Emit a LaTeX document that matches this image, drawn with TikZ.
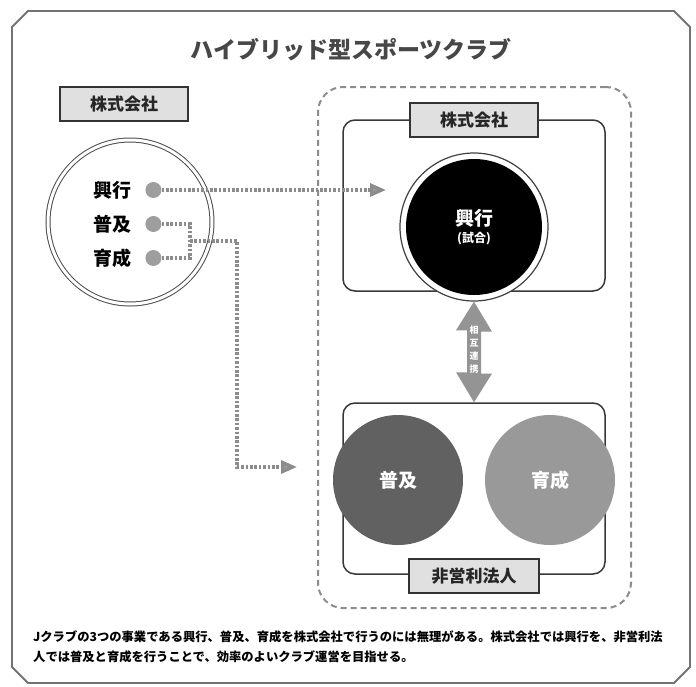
\documentclass[tikz,border=0pt]{standalone}
\usepackage{fontspec}
\setmainfont{Noto Sans CJK JP}
\usetikzlibrary{arrows.meta}
\usetikzlibrary{positioning}

\begin{document}
\begin{tikzpicture}[x=1pt, y=-1pt,
 lblbox/.style={draw=black!80, fill=black!12, line width=1.4pt, minimum width=128pt, minimum height=34pt, inner sep=0pt, text=black!85, font=\fontsize{17}{18}\selectfont\bfseries},
 item/.style={inner sep=0pt, font=\fontsize{19}{21}\selectfont\bfseries},
 dot/.style={circle, fill=black!38, minimum size=16pt, inner sep=0pt},
 dotline/.style={draw=black!45, line width=3.2pt, dash pattern=on 2.6pt off 1.8pt},
 tip/.style={-{Triangle[length=16pt, width=13pt, fill=black!40]}},
 roundbox/.style={draw=black!78, line width=1.5pt, rounded corners=12pt, minimum width=262pt, minimum height=171pt},
 disc/.style={circle, minimum size=130pt, inner sep=0pt, text=white, font=\fontsize{19}{21}\selectfont\bfseries}]
\useasboundingbox (0,0) rectangle (696,686);
\draw[black!55, line width=1.8pt] (12,27) -- (28,11) -- (674,11) -- (690,27) -- (690,667) -- (674,683) -- (28,683) -- (12,667) -- cycle;
\node[text=black!72, font=\fontsize{23}{25}\selectfont\bfseries] (title) at (351,50) {ハイブリッド型スポーツクラブ};

% left: joint-stock company
\node[lblbox] (lcorp) at (124,104) {株式会社};
\node[circle, draw=black!70, double=white, double distance=3pt, line width=1pt, minimum size=164pt] (lring) at (130,222) {};
\foreach \nm/\txt/\yy in {kg/興行/190, fk/普及/224, ik/育成/258} {
 \node[item] (t\nm) at (112,\yy) {\txt};
 \node[dot, right=14pt of t\nm] (d\nm) {};
}

% right: hybrid club
\node[draw=black!45, line width=2pt, dash pattern=on 6pt off 4pt, rounded corners=25pt, minimum width=313pt, minimum height=521pt] (club) at (474.5,347.5) {};
\node[roundbox] (upbox) at (474,205.5) {};
\node[roundbox] (lowbox) at (474,488.5) {};
\node[lblbox] (rcorp) at (474,120) {株式会社};
\node[lblbox, minimum width=130pt] (npo) at (474,576) {非営利法人};
\node[circle, draw=black!75, line width=1.2pt, fill=white, minimum size=148pt] (kring) at (474,227) {};
\node[disc, fill=black, minimum size=136pt, align=center] (kogyo) at (kring) {興行\\[-4pt]{\fontsize{12}{14}\selectfont (試合)}};
\node[disc, fill=black!62] (fukyu) at (398,480) {普及};
\node[disc, fill=black!40] (ikusei) at (550,480) {育成};

\fill[black!42] (kring.south) -- ++(18,30) -- ++(-11,0) -- ++(0,42) -- ++(11,0) -- (lowbox.north) -- ++(-18,-30) -- ++(11,0) -- ++(0,-42) -- ++(-11,0) -- cycle;
\node[inner sep=0pt, align=center, text=white, font=\fontsize{9}{13}\selectfont\bfseries] (renkei) at (474,350) {相\\互\\連\\携};

% dotted links
\coordinate (join) at (190,241);
\coordinate (kgin) at (386,190);
\coordinate (fkin) at (297,467);
\draw[dotline, tip] (dkg.east) -- (kgin);
\draw[dotline] (dfk.east) -| (join);
\draw[dotline] (dik.east) -| (join);
\draw[dotline, tip] (join) -- ++(47,0) |- (fkin);

\node[anchor=north west, align=left, inner sep=0pt, font=\fontsize{12.3}{20}\selectfont\bfseries] (note) at (33,631) {Jクラブの3つの事業である興行、普及、育成を株式会社で行うのには無理がある。株式会社では興行を、非営利法\\人では普及と育成を行うことで、効率のよいクラブ運営を目指せる。};
\end{tikzpicture}
\end{document}
